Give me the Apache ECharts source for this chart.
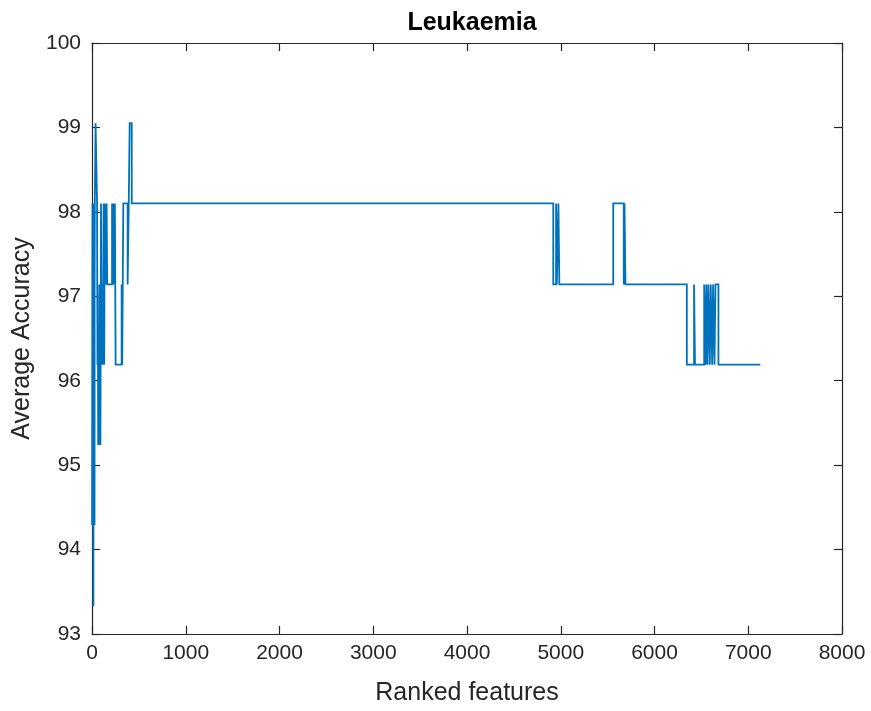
<!DOCTYPE html>
<html>
<head>
<meta charset="utf-8">
<title>Leukaemia</title>
<script src="https://cdn.jsdelivr.net/npm/echarts@6/dist/echarts.min.js"></script>
<style>
  html, body { margin: 0; padding: 0; background: #ffffff; }
  #chart { width: 871px; height: 711px; }
</style>
</head>
<body>
<div id="chart"></div>
<script>
// Number of ranked features at which the accuracy changes (each value holds until the next count)
const featureCounts = [
  1, 3, 5, 7, 9, 11, 13, 15, 17, 19, 21, 23, 25, 27, 28, 30,
  38, 54, 58, 62, 66, 72, 78, 84, 90, 96, 104, 110, 118, 124, 130,
  136, 142, 156, 162, 214, 222, 230, 238, 244, 252, 316, 322, 328, 334, 380, 392, 402, 424,
  4920, 4950, 4958, 4975, 4985, 5560, 5672, 5680, 5690,
  6345, 6422, 6432, 6530, 6545, 6553, 6565, 6575, 6590, 6600, 6615, 6625, 6640, 6650, 6682, 7129
];

// Average accuracy (%) for each of the counts above
const accuracyValues = [
  94.29, 96.19, 98.10, 94.29, 97.14, 98.10, 95.24, 93.33, 96.19, 98.10, 94.29, 97.14, 98.10, 94.29, 97.14, 98.10,
  99.05, 98.10, 96.19, 97.14, 95.24, 96.19, 95.24, 97.14, 95.24, 98.10, 96.19, 97.14, 96.19, 98.10, 96.19,
  98.10, 97.14, 98.10, 97.14, 98.10, 97.14, 98.10, 97.14, 98.10, 96.19, 97.14, 96.19, 97.14, 98.10, 97.14, 98.10, 99.05, 98.10,
  97.14, 98.10, 97.14, 98.10, 97.14, 98.10, 97.14, 98.10, 97.14,
  96.19, 97.14, 96.19, 97.14, 96.19, 97.14, 96.19, 97.14, 96.19, 97.14, 96.19, 97.14, 96.19, 97.14, 96.19, 96.19
];

// Axis ranges and tick spacing
const xRange = [0, 8000];
const xTickStep = 1000;
const yRange = [93, 100];
const yTickStep = 1;

const titleText = 'Leukaemia';
const xTitle = 'Ranked features';
const yTitle = 'Average Accuracy';

const seriesData = featureCounts.map((f, i) => [f, accuracyValues[i]]);

const fontFamily = 'Arial, "Liberation Sans", Helvetica, sans-serif';
const axisColor = '#262626';
const lineColor = '#0072BD';

const chart = echarts.init(document.getElementById('chart'), null, { renderer: 'canvas' });

function boxAxis(extra) {
  return Object.assign({
    type: 'value',
    axisLine: { show: true, onZero: false, lineStyle: { color: axisColor, width: 1.2 } },
    axisTick: { show: true, inside: true, length: 8, lineStyle: { color: axisColor, width: 1.2 } },
    splitLine: { show: false },
    axisLabel: { show: false }
  }, extra);
}

chart.setOption({
  backgroundColor: '#ffffff',
  animation: false,
  title: {
    text: titleText,
    left: 467,
    top: 6,
    textAlign: 'center',
    textStyle: { fontFamily, fontSize: 25, fontWeight: 'bold', color: '#000000' }
  },
  grid: { left: 92, right: 29, top: 43, bottom: 77, containLabel: false },
  xAxis: [
    boxAxis({
      position: 'bottom',
      min: xRange[0], max: xRange[1], interval: xTickStep,
      name: xTitle,
      nameLocation: 'middle',
      nameGap: 47,
      nameTextStyle: { fontFamily, fontSize: 25, color: axisColor },
      axisLabel: { show: true, margin: 9, fontFamily, fontSize: 21, color: axisColor, formatter: v => String(v) }
    }),
    boxAxis({ position: 'top', min: xRange[0], max: xRange[1], interval: xTickStep })
  ],
  yAxis: [
    boxAxis({
      position: 'left',
      min: yRange[0], max: yRange[1], interval: yTickStep,
      name: yTitle,
      nameLocation: 'middle',
      nameGap: 47,
      nameTextStyle: { fontFamily, fontSize: 25, color: axisColor },
      axisLabel: { show: true, margin: 11, fontFamily, fontSize: 21, color: axisColor, formatter: v => String(v) }
    }),
    boxAxis({ position: 'right', min: yRange[0], max: yRange[1], interval: yTickStep })
  ],
  series: [{
    type: 'line',
    step: 'end',
    data: seriesData,
    showSymbol: false,
    symbol: 'none',
    sampling: null,
    lineStyle: { color: lineColor, width: 1.8, join: 'miter', cap: 'butt' },
    xAxisIndex: 0,
    yAxisIndex: 0
  }]
});
</script>
</body>
</html>
